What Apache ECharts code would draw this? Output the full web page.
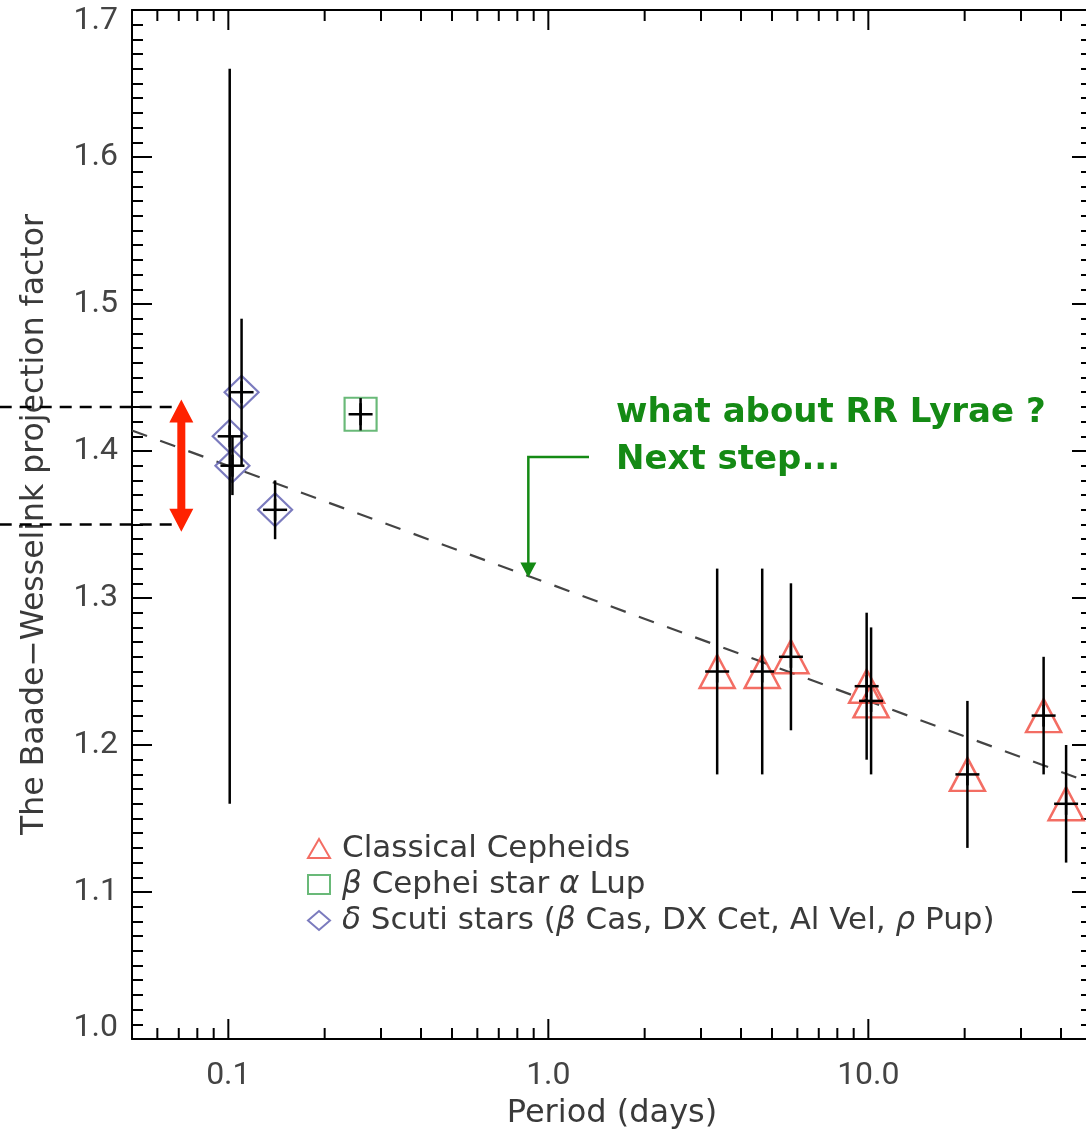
<!DOCTYPE html>
<html>
<head>
<meta charset="utf-8">
<script src="https://cdn.jsdelivr.net/npm/echarts@6/dist/echarts.min.js"></script>
<style>
html,body{margin:0;padding:0;background:#fff;}
#chart{width:1086px;height:1135px;}
</style>
</head>
<body>
<div id="chart"></div>
<script>
// ---------------- data ----------------
const cepheidPeriods = [3.37, 4.66, 5.73, 9.88, 10.2, 20.4, 35.3, 41.5];
const cepheidP       = [1.25, 1.25, 1.26, 1.24, 1.23, 1.18, 1.22, 1.16];
const cepheidErr     = [0.07, 0.07, 0.05, 0.05, 0.05, 0.05, 0.04, 0.04];

const betaCepPeriods = [0.259];
const betaCepP       = [1.425];
const betaCepErr     = [0.011];

const deltaSctPeriods = [0.101, 0.103, 0.110, 0.140];
const deltaSctP       = [1.41, 1.39, 1.44, 1.36];
const deltaSctErr     = [0.25, 0.02, 0.05, 0.02];

const fitPeriods = [0.05, 50];
const fitValues  = [1.414, 1.174];

const xMajorTicks = [0.1, 1, 10];
const xTickLabels = ['0.1', '1.0', '10.0'];
const xMinorTicks = [0.06, 0.07, 0.08, 0.09, 0.2, 0.3, 0.4, 0.5, 0.6, 0.7, 0.8, 0.9,
                     2, 3, 4, 5, 6, 7, 8, 9, 20, 30, 40];

const yTickValues = [1.0, 1.1, 1.2, 1.3, 1.4, 1.5, 1.6, 1.7];
const yTickLabels = ['1.0', '1.1', '1.2', '1.3', '1.4', '1.5', '1.6', '1.7'];

// RR Lyrae range markers (p between 1.35 and 1.43)
const rangeValues = [1.43, 1.35];
const rangeStartPeriod = 0.0193;
const rangeEndPeriod = 0.0713;
const rangeArrowTips = [1.435, 1.345];

// green annotation arrow (period, p)
const noteArrowPeriods = [1.34, 0.866, 0.866];
const noteArrowValues  = [1.396, 1.396, 1.314];
const noteLines = ['what about RR Lyrae ?', 'Next step...'];

const legendNames = ['Classical Cepheids', 'beta Cephei', 'delta Scuti'];
const legendTexts = {
  'Classical Cepheids': 'Classical Cepheids',
  'beta Cephei': '{g|β} Cephei star {g|α} Lup',
  'delta Scuti': '{g|δ} Scuti stars ({g|β} Cas, DX Cet, Al Vel, {g|ρ} Pup)'
};

// ---------------- helpers ----------------
const FONT = 'DejaVu Sans';
const NUMFONT = 'Roboto';
const TXT = '#3a3a3a';
const FS = 31;

function zip(xs, ys, es) {
  return xs.map((x, i) => es ? [x, ys[i], es[i]] : [x, ys[i]]);
}

function errRender(params, api) {
  const x = api.value(0), y = api.value(1), e = api.value(2);
  const c = api.coord([x, y]);
  const lo = api.coord([x, y - e]);
  const hi = api.coord([x, y + e]);
  const st = {stroke: '#000', lineWidth: 2.5};
  return {type: 'group', children: [
    {type: 'line', shape: {x1: lo[0], y1: lo[1], x2: hi[0], y2: hi[1]}, style: st},
    {type: 'line', shape: {x1: c[0] - 12, y1: c[1], x2: c[0] + 12, y2: c[1]}, style: st},
    {type: 'line', shape: {x1: c[0], y1: c[1] - 11, x2: c[0], y2: c[1] + 11}, style: st}
  ]};
}

const xTickData = xMajorTicks.map(v => [v, 1.0, 1]).concat(xMinorTicks.map(v => [v, 1.0, 0]));

function xTickRender(params, api) {
  const v = api.value(0), major = api.value(2);
  const b = api.coord([v, 1.0]);
  const t = api.coord([v, 1.7]);
  const len = major ? 20 : 11;
  const st = {stroke: '#000', lineWidth: 2};
  return {type: 'group', children: [
    {type: 'line', shape: {x1: b[0], y1: b[1], x2: b[0], y2: b[1] - len}, style: st},
    {type: 'line', shape: {x1: t[0], y1: t[1], x2: t[0], y2: t[1] + len}, style: st}
  ]};
}

const rangeData = rangeValues.map(v => [rangeStartPeriod, v, rangeEndPeriod]);
function rangeRender(params, api) {
  const a = api.coord([api.value(0), api.value(1)]);
  const b = api.coord([api.value(2), api.value(1)]);
  return {type: 'line', shape: {x1: a[0], y1: a[1], x2: b[0], y2: b[1]},
    style: {stroke: '#000', lineWidth: 2.5, lineDash: [12, 8]}};
}

function doubleArrowRender(params, api) {
  const top = api.coord([rangeEndPeriod, rangeArrowTips[0]]);
  const bot = api.coord([rangeEndPeriod, rangeArrowTips[1]]);
  const x = top[0], hw = 12, hl = 23, sw = 4;
  const pts = [
    [x, top[1]], [x + hw, top[1] + hl], [x + sw, top[1] + hl],
    [x + sw, bot[1] - hl], [x + hw, bot[1] - hl], [x, bot[1]],
    [x - hw, bot[1] - hl], [x - sw, bot[1] - hl], [x - sw, top[1] + hl],
    [x - hw, top[1] + hl]
  ];
  return {type: 'polygon', shape: {points: pts}, style: {fill: '#ff2200'}};
}

function noteArrowRender(params, api) {
  const pts = noteArrowPeriods.map((p, i) => api.coord([p, noteArrowValues[i]]));
  const tip = pts[pts.length - 1];
  const col = '#148a14';
  return {type: 'group', children: [
    {type: 'polyline', shape: {points: pts.slice(0, 2).concat([[tip[0], tip[1] - 12]])},
      style: {stroke: col, lineWidth: 2.5, fill: null}},
    {type: 'polygon', shape: {points: [[tip[0], tip[1]], [tip[0] - 8, tip[1] - 15], [tip[0] + 8, tip[1] - 15]]},
      style: {fill: col}}
  ]};
}

function xLabel(v) {
  for (let i = 0; i < xMajorTicks.length; i++) {
    if (Math.abs(v / xMajorTicks[i] - 1) < 1e-6) return xTickLabels[i];
  }
  return '';
}
function yLabel(v) {
  for (let i = 0; i < yTickValues.length; i++) {
    if (Math.abs(v - yTickValues[i]) < 1e-6) {
      if (i === 0) return '{lo|' + yTickLabels[i] + '}';
      if (i === yTickValues.length - 1) return '{hi|' + yTickLabels[i] + '}';
      return yTickLabels[i];
    }
  }
  return '';
}

const yAxisCommon = {
  type: 'value', min: 1.0, max: 1.7, interval: 0.1,
  axisLine: {show: true, lineStyle: {color: '#000', width: 2}},
  axisTick: {show: true, inside: true, length: 20, lineStyle: {color: '#000', width: 2}},
  minorTick: {show: true, splitNumber: 10, length: 11, lineStyle: {color: '#000', width: 2}},
  splitLine: {show: false}, minorSplitLine: {show: false}
};

const numStyle = {fontFamily: NUMFONT, fontSize: 32, color: '#444'};

const option = {
  animation: false,
  backgroundColor: '#fff',
  grid: {left: 132, top: 10, width: 960, height: 1029, containLabel: false, outerBoundsMode: 'none'},
  xAxis: [
    {type: 'log', logBase: 10, min: 0.05, max: 50, position: 'bottom',
      axisLine: {show: true, lineStyle: {color: '#000', width: 2}},
      axisTick: {show: false}, splitLine: {show: false},
      axisLabel: Object.assign({formatter: xLabel, margin: 21, showMinLabel: false, showMaxLabel: false}, numStyle),
      name: 'Period (days)', nameLocation: 'middle', nameGap: 59,
      nameTextStyle: {fontFamily: FONT, fontSize: 32, color: TXT}},
    {type: 'log', logBase: 10, min: 0.05, max: 50, position: 'top',
      axisLine: {show: true, lineStyle: {color: '#000', width: 2}},
      axisTick: {show: false}, splitLine: {show: false}, axisLabel: {show: false}}
  ],
  yAxis: [
    Object.assign({}, yAxisCommon, {position: 'left',
      axisLabel: Object.assign({formatter: yLabel, margin: 14,
        rich: {lo: Object.assign({padding: [0, 0, 22, 0]}, numStyle),
               hi: Object.assign({padding: [22, 0, 0, 0]}, numStyle)}}, numStyle),
      name: 'The Baade\u2212Wesselink projection factor', nameLocation: 'middle', nameGap: 81,
      nameTextStyle: {fontFamily: FONT, fontSize: 31.5, color: TXT}}),
    Object.assign({}, yAxisCommon, {position: 'right', axisLabel: {show: false}})
  ],
  legend: {
    orient: 'vertical', left: 302, top: 826, itemGap: 1, itemWidth: 22, itemHeight: 19,
    selectedMode: false, data: legendNames,
    formatter: n => legendTexts[n],
    textStyle: {fontFamily: FONT, fontSize: FS, color: TXT, lineHeight: 35, padding: [0, 0, 0, 7],
      rich: {g: {fontFamily: FONT, fontSize: FS, color: TXT, fontStyle: 'italic', lineHeight: 35}}}
  },
  graphic: [
    {type: 'text', left: 616, top: 390, z: 100,
      style: {text: noteLines.join('\n'), font: 'bold 34px "DejaVu Sans"', fill: '#148a14', lineHeight: 47}}
  ],
  series: [
    {type: 'custom', name: 'xticks', renderItem: xTickRender, data: xTickData, clip: false, z: 1, silent: true},
    {type: 'line', name: 'fit', data: zip(fitPeriods, fitValues), showSymbol: false, symbol: 'none',
      lineStyle: {color: '#444', width: 2.2, type: [16, 14]}, z: 2, silent: true},
    {type: 'custom', name: 'range', renderItem: rangeRender, data: rangeData, clip: false, z: 3, silent: true},
    {type: 'custom', name: 'rangeArrow', renderItem: doubleArrowRender, data: [[rangeEndPeriod, 1.39]], clip: false, z: 4, silent: true},
    {type: 'custom', name: 'noteArrow', renderItem: noteArrowRender, data: [[1, 1.35]], clip: false, z: 4, silent: true},
    {type: 'scatter', name: 'Classical Cepheids', data: zip(cepheidPeriods, cepheidP),
      symbol: 'triangle', symbolSize: [35, 33],
      itemStyle: {color: 'rgba(255,255,255,0)', borderColor: '#f0483c', borderWidth: 2.5}, z: 5},
    {type: 'scatter', name: 'beta Cephei', data: zip(betaCepPeriods, betaCepP),
      symbol: 'rect', symbolSize: [32, 33],
      itemStyle: {color: 'rgba(255,255,255,0)', borderColor: '#44a856', borderWidth: 2.2}, z: 5},
    {type: 'scatter', name: 'delta Scuti', data: zip(deltaSctPeriods, deltaSctP),
      symbol: 'diamond', symbolSize: [34, 33],
      itemStyle: {color: 'rgba(255,255,255,0)', borderColor: '#5a5aae', borderWidth: 2.2}, z: 5},
    {type: 'custom', name: 'errCep', renderItem: errRender, data: zip(cepheidPeriods, cepheidP, cepheidErr), z: 6, silent: true},
    {type: 'custom', name: 'errBCep', renderItem: errRender, data: zip(betaCepPeriods, betaCepP, betaCepErr), z: 6, silent: true},
    {type: 'custom', name: 'errDSct', renderItem: errRender, data: zip(deltaSctPeriods, deltaSctP, deltaSctErr), z: 6, silent: true}
  ]
};

const chart = echarts.init(document.getElementById('chart'), null, {renderer: 'canvas'});
chart.setOption(option);
</script>
</body>
</html>
